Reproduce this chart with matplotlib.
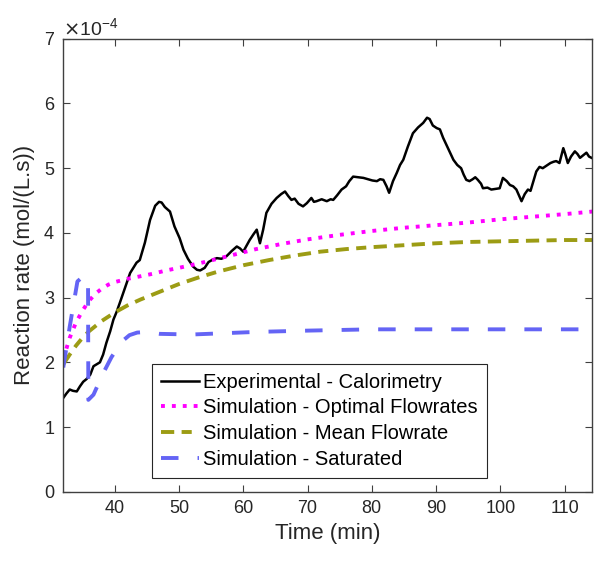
import numpy as np
import matplotlib
matplotlib.use('Agg')
import matplotlib.pyplot as plt
from matplotlib.ticker import ScalarFormatter

plt.rcParams['font.family'] = ['Liberation Sans', 'DejaVu Sans']

# values, in units of 1e-4 mol/(L.s)
t_exp = [32.0, 32.5, 33.0, 33.5, 34.1, 34.6, 35.1, 35.6, 36.2, 36.7, 37.2, 37.7, 38.2, 38.7,
         39.3, 39.8, 40.3, 40.8, 41.6, 42.4, 43.4, 43.9, 44.7, 45.5, 46.3, 46.9, 47.3, 47.8,
         48.6, 49.3, 50.1, 50.7, 51.4, 52.2, 52.8, 53.3, 54.0, 54.6, 55.3, 55.9, 56.6, 57.4,
         58.2, 59.0, 59.5, 60.0, 60.5, 61.0, 61.6, 62.1, 62.6, 63.1, 63.6, 64.4, 65.2, 65.9,
         66.5, 67.0, 67.5, 68.0, 68.6, 69.3, 69.9, 70.6, 71.0, 71.4, 72.2, 73.0, 73.6, 74.0,
         74.6, 75.3, 76.0, 76.5, 77.1, 77.9, 78.7, 79.4, 80.1, 80.8, 81.3, 81.8, 82.3, 82.7,
         83.3, 83.9, 84.4, 84.9, 85.6, 86.4, 87.2, 88.0, 88.6, 89.0, 89.5, 90.1, 90.6, 91.1,
         91.9, 92.7, 93.3, 93.9, 94.3, 94.7, 95.2, 95.7, 96.1, 96.5, 97.0, 97.3, 98.0, 98.6,
         99.3, 99.9, 100.4, 101.0, 101.5, 102.0, 102.5, 102.9, 103.3, 103.8, 104.3, 104.7,
         105.2, 105.6, 106.1, 106.6, 107.2, 107.8, 108.3, 108.7, 109.2, 109.8, 110.1, 110.5,
         111.0, 111.6, 112.0, 112.4, 112.9, 113.4, 113.8, 114.2]
r_exp = [1.45, 1.52, 1.58, 1.56, 1.55, 1.63, 1.70, 1.74, 1.81, 1.94, 1.97, 2.00, 2.12, 2.30,
         2.48, 2.66, 2.78, 2.92, 3.15, 3.38, 3.54, 3.58, 3.85, 4.20, 4.42, 4.48, 4.47, 4.40,
         4.33, 4.10, 3.92, 3.74, 3.60, 3.48, 3.43, 3.42, 3.46, 3.55, 3.59, 3.61, 3.60, 3.64,
         3.72, 3.79, 3.76, 3.71, 3.80, 3.89, 3.98, 4.05, 3.84, 4.05, 4.31, 4.45, 4.54, 4.60,
         4.64, 4.57, 4.51, 4.53, 4.45, 4.41, 4.46, 4.54, 4.48, 4.49, 4.52, 4.49, 4.52, 4.51,
         4.58, 4.67, 4.72, 4.80, 4.87, 4.86, 4.85, 4.83, 4.81, 4.80, 4.83, 4.82, 4.72, 4.62,
         4.80, 4.93, 5.05, 5.13, 5.33, 5.54, 5.63, 5.70, 5.78, 5.76, 5.66, 5.62, 5.60, 5.47,
         5.30, 5.13, 5.05, 5.00, 4.90, 4.82, 4.80, 4.83, 4.86, 4.82, 4.76, 4.69, 4.70, 4.67,
         4.68, 4.69, 4.85, 4.80, 4.74, 4.72, 4.67, 4.58, 4.49, 4.60, 4.67, 4.65,
         4.82, 4.95, 5.02, 5.00, 5.04, 5.08, 5.10, 5.11, 5.08, 5.31, 5.22, 5.08,
         5.18, 5.26, 5.22, 5.16, 5.20, 5.24, 5.18, 5.16]

t_opt = [32, 33, 34, 35, 36, 37, 38, 39, 40, 42, 44, 46, 48, 50, 54, 58, 62, 66, 70, 75,
         80, 85, 90, 95, 100, 105, 110, 114.3]
r_opt = [2.05, 2.38, 2.62, 2.80, 2.95, 3.06, 3.14, 3.20, 3.24, 3.29, 3.33, 3.37, 3.42, 3.46,
         3.55, 3.65, 3.75, 3.83, 3.90, 3.97, 4.03, 4.08, 4.12, 4.16, 4.21, 4.25, 4.29, 4.33]

t_mean = [32, 33, 34, 35, 36, 38, 40, 42, 44, 46, 48, 50, 53, 56, 60, 64, 68, 72, 76, 80,
          85, 90, 95, 100, 105, 110, 114.3]
r_mean = [1.97, 2.12, 2.26, 2.38, 2.48, 2.64, 2.77, 2.88, 2.97, 3.05, 3.13, 3.21, 3.31, 3.40,
          3.50, 3.58, 3.65, 3.71, 3.75, 3.78, 3.81, 3.84, 3.86, 3.87, 3.88, 3.89, 3.89]

t_sat = [32, 33.0, 34.2, 35.0, 35.85, 35.9, 36.7, 38.2, 39.5, 41.1, 42.3, 43.5, 45, 47, 52,
         57, 62, 70, 80, 90, 100, 114.3]
r_sat = [1.92, 2.55, 3.25, 3.32, 3.30, 1.42, 1.50, 1.83, 2.08, 2.32, 2.42, 2.46, 2.47, 2.44,
         2.43, 2.45, 2.47, 2.49, 2.51, 2.51, 2.51, 2.51]

labels = ['Experimental - Calorimetry', 'Simulation - Optimal Flowrates',
          'Simulation - Mean Flowrate', 'Simulation - Saturated']

scale = 1e-4

fig = plt.figure(figsize=(5.97, 5.62), dpi=100)
ax = fig.add_axes([0.106, 0.125, 0.886, 0.806])

ax.plot(t_exp, np.array(r_exp) * scale, color='black', lw=1.8, label=labels[0])
ax.plot(t_opt, np.array(r_opt) * scale, color='#ff00ff', lw=2.8, dashes=(1.0, 1.8),
        label=labels[1])
ax.plot(t_mean, np.array(r_mean) * scale, color='#9c9c14', lw=2.8, dashes=(3.4, 1.9, 2.6, 1.9),
        label=labels[2])
ax.plot(t_sat, np.array(r_sat) * scale, color='#6464f5', lw=2.8, dashes=(4.5, 4.9),
        label=labels[3])

ax.set_xlim(32, 114.3)
ax.set_ylim(0, 7e-4)
ax.set_xticks(np.arange(40, 111, 10))
ax.set_yticks(np.arange(0, 8) * scale)

fmt = ScalarFormatter(useMathText=True)
fmt.set_powerlimits((-4, -4))
ax.yaxis.set_major_formatter(fmt)
ax.yaxis.get_offset_text().set_fontsize(14)
ax.yaxis.get_offset_text().set_color('#262626')

ax.tick_params(direction='in', top=True, right=True, length=5, width=0.8,
               labelsize=13, colors='#404040', labelcolor='#262626', pad=6)
for s in ax.spines.values():
    s.set_color('#404040')
    s.set_linewidth(1.0)

ax.set_xlabel('Time (min)', fontsize=16, color='#262626', labelpad=4)
ax.set_ylabel('Reaction rate (mol/(L.s))', fontsize=16, color='#262626', labelpad=6)

leg = ax.legend(loc='lower left', bbox_to_anchor=(0.168, 0.031), borderaxespad=0,
                fontsize=14.5, fancybox=False, edgecolor='#262626', framealpha=1,
                handlelength=1.9, handletextpad=0.2, labelspacing=0.33, borderpad=0.45)
leg.get_frame().set_linewidth(0.8)

fig.savefig('out.png', dpi=100)
